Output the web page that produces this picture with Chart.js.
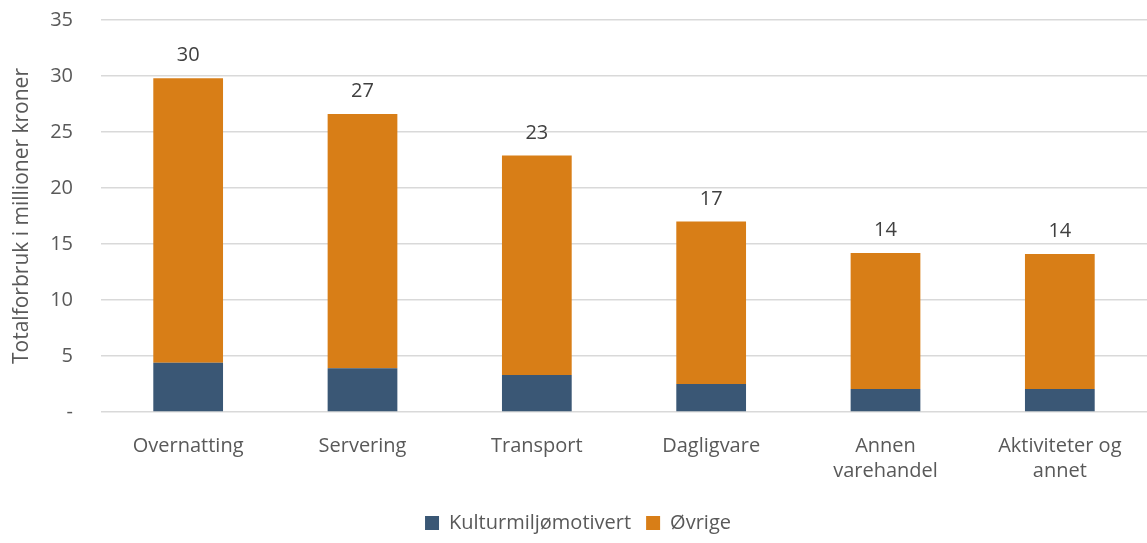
<!DOCTYPE html>
<html>
<head>
<meta charset="utf-8">
<script src="https://cdn.jsdelivr.net/npm/chart.js@4"></script>
<style>
  html, body { margin: 0; padding: 0; background: #fff; }
  #wrap { width: 1147px; height: 543px; }
</style>
</head>
<body>
<div id="wrap"><canvas id="forbrukChart"></canvas></div>
<script>
// categories and values (million NOK)
var kategorier = [ 'Overnatting', 'Servering', 'Transport', 'Dagligvare', ['Annen', 'varehandel'], ['Aktiviteter og', 'annet'] ];
var kulturmiljo = [ 4.4, 3.9, 3.3, 2.5, 2.05, 2.05 ];
var ovrige = [ 25.4, 22.7, 19.6, 14.5, 12.15, 12.05 ];

var fontFam = '"Open Sans", Lato, sans-serif';

// total on top of each stack
var totalLabels = {
  id: 'totalLabels',
  afterDatasetsDraw: function(chart) {
    var ctx = chart.ctx;
    var meta = chart.getDatasetMeta(1);
    ctx.save();
    ctx.font = '20px ' + fontFam;
    ctx.fillStyle = '#404040';
    ctx.textAlign = 'center';
    ctx.textBaseline = 'alphabetic';
    for ( let i = 0; i < meta.data.length; i++ ) {
      var total = kulturmiljo[i] + ovrige[i];
      var bar = meta.data[i];
      ctx.fillText( Math.round(total), bar.x, bar.y - 17 );
    }
    ctx.restore();
  }
};

const ctx = document.getElementById('forbrukChart');
const chart = new Chart(ctx, {
  type: 'bar',
  data: {
    labels: kategorier,
    datasets: [
      {
        label: 'Kulturmiljømotivert',
        data: kulturmiljo,
        backgroundColor: '#3A5775',
        categoryPercentage: 1,
        barPercentage: 0.4,
      },
      {
        label: 'Øvrige',
        data: ovrige,
        backgroundColor: '#D87E17',
        categoryPercentage: 1,
        barPercentage: 0.4,
      },
    ]
  },
  options: {
    responsive: true,
    maintainAspectRatio: false,
    animation: false,
    layout: { autoPadding: false, padding: { top: 0, right: 0, left: 9, bottom: 0 } },
    plugins: {
      legend: {
        position: 'bottom',
        labels: {
          font: { size: 20, family: fontFam },
          color: '#595959',
          boxWidth: 14,
          boxHeight: 14,
          padding: 15,
        }
      },
      tooltip: { enabled: false },
    },
    scales: {
      x: {
        stacked: true,
        grid: { display: false },
        border: { display: false },
        ticks: {
          font: { size: 20, family: fontFam, lineHeight: 1.25 },
          color: '#595959',
          padding: 14,
          maxRotation: 0,
        }
      },
      y: {
        stacked: true,
        min: 0,
        max: 35,
        afterFit: function(scale) { scale.width = 92; },
        title: {
          display: true,
          text: 'Totalforbruk i millioner kroner',
          font: { size: 21, family: fontFam },
          color: '#595959',
          padding: { top: 0, bottom: 0 },
        },
        grid: { color: '#D9D9D9', lineWidth: 1.5, drawTicks: true, tickLength: 20, tickColor: 'rgba(0,0,0,0)' },
        border: { display: false },
        ticks: {
          stepSize: 5,
          font: { size: 20, family: fontFam },
          color: '#595959',
          padding: 8,
          callback: function(v) { return v === 0 ? '-' : v; }
        }
      }
    }
  },
  plugins: [ totalLabels ]
});
</script>
</body>
</html>
